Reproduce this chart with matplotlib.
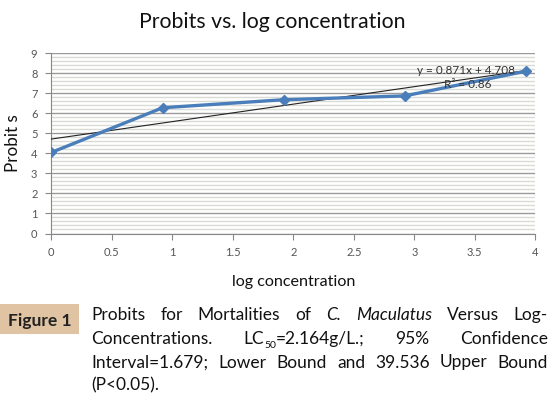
import numpy as np
import matplotlib
matplotlib.use("Agg")
import matplotlib.pyplot as plt
from matplotlib.transforms import IdentityTransform
from matplotlib.ticker import MultipleLocator

# data
log_conc = [0, 0.92, 1.92, 2.92, 3.92]
probits = [4.04, 6.27, 6.67, 6.86, 8.09]
trend_slope = 0.871
trend_intercept = 4.708
trend_range = [0, 3.92]
x_ticks = [0, 0.5, 1, 1.5, 2, 2.5, 3, 3.5, 4]
x_tick_labels = ["0", "0.5", "1", "1.5", "2", "2.5", "3", "3.5", "4"]
y_ticks = list(range(0, 10))

plt.rcParams['font.family'] = ['Lato', 'DejaVu Sans']

fig = plt.figure(figsize=(5.6, 3.97), dpi=100)
ax = fig.add_axes([51.3 / 560, 1 - 233.5 / 397, 484 / 560, 180.5 / 397])

# grid: major every 1, minor every 0.2
ax.set_ylim(0, 9)
ax.set_xlim(0, 4)
ax.yaxis.set_major_locator(MultipleLocator(1))
ax.yaxis.set_minor_locator(MultipleLocator(0.2))
ax.grid(which='major', axis='y', color='#9a9a9a', linewidth=1.0)
ax.grid(which='minor', axis='y', color='#d9dcd6', linewidth=1.0)
ax.set_axisbelow(True)
ax.tick_params(axis='y', which='minor', length=0)

# trend line
tx = np.array(trend_range)
ax.plot(tx, trend_slope * tx + trend_intercept, color='#222222', linewidth=0.8, zorder=3)

ax.plot(log_conc, probits, color='#4a7ebb', linewidth=2.4, marker='D', markersize=5.5,
        markerfacecolor='#4a7ebb', markeredgecolor='#4a7ebb', zorder=4)

ax.text(3.43, 8.13, "y = 0.871x + 4.708", fontsize=8.5, color='#333333',
        ha='center', va='center', zorder=5)
ax.text(3.44, 7.45, "R\u00b2 = 0.86", fontsize=8.5, color='#333333',
        ha='center', va='center', zorder=5)

ax.set_xticks(x_ticks)
ax.set_xticklabels(x_tick_labels)
ax.set_yticks(y_ticks)
ax.tick_params(axis='both', which='major', labelsize=8, labelcolor='#555555',
               color='#888888', length=4, pad=6)
for side in ['top', 'right']:
    ax.spines[side].set_visible(False)
for side in ['left', 'bottom']:
    ax.spines[side].set_color('#888888')

fig.text(272 / 560, 1 - 22 / 397, "Probits vs. log concentration", fontsize=15.3,
         color='#111111', ha='center', va='center')
fig.text(294 / 560, 1 - 282 / 397, "log concentration", fontsize=11.6,
         color='#111111', ha='center', va='center')
fig.text(13 / 560, 1 - 143 / 397, "Probit s", fontsize=12.3, rotation=90,
         color='#111111', ha='center', va='center')

# caption
fig.patches.append(plt.Rectangle((0, 1 - 334 / 397), 79 / 560, 30 / 397,
                                 transform=fig.transFigure, facecolor='#dfc3a2',
                                 edgecolor='none'))
fig.text(40 / 560, 1 - 326 / 397, "Figure 1", fontsize=12.5, fontweight='bold',
         color='#222222', ha='center', va='baseline')

H = 397
renderer = fig.canvas.get_renderer()
cap = dict(fontsize=12.5, color='#111111')


def place_line(words, y, x0, x1, justify=True):
    groups = []
    for word in words:
        arts = []
        for txt, kw in word:
            kw = dict(kw)
            dy = kw.pop('dy', 0)
            t = fig.text(0, H - y - dy, txt, transform=IdentityTransform(),
                         va='baseline', ha='left', **kw)
            arts.append(t)
        groups.append(arts)
    widths = [[a.get_window_extent(renderer).width for a in g] for g in groups]
    total = sum(sum(w) for w in widths)
    gap = (x1 - x0 - total) / (len(groups) - 1) if justify else 4.0
    x = x0
    for g, ws in zip(groups, widths):
        for a, w in zip(g, ws):
            a.set_x(x)
            x += w
        x += gap


line1 = [[("Probits", cap)], [("for", cap)], [("Mortalities", cap)], [("of", cap)],
         [("C.", dict(cap, style='italic'))], [("Maculatus", dict(cap, style='italic'))],
         [("Versus", cap)], [("Log-", cap)]]
line2 = [[("Concentrations.", cap)],
         [("LC", cap), ("50", dict(cap, fontsize=7.5, dy=4)), ("=2.164g/L.;", cap)],
         [("95%", cap)], [("Confidence", cap)]]
line3 = [[(w, cap)] for w in "Interval=1.679; Lower Bound and 39.536 Upper Bound".split()]
line4 = [[("(P<0.05).", cap)]]

place_line(line1, 320, 91.5, 548)
place_line(line2, 344, 91.5, 548)
place_line(line3, 367.5, 91.5, 548)
place_line(line4, 390, 91.5, 548, justify=False)

fig.savefig("out.png", dpi=100)
